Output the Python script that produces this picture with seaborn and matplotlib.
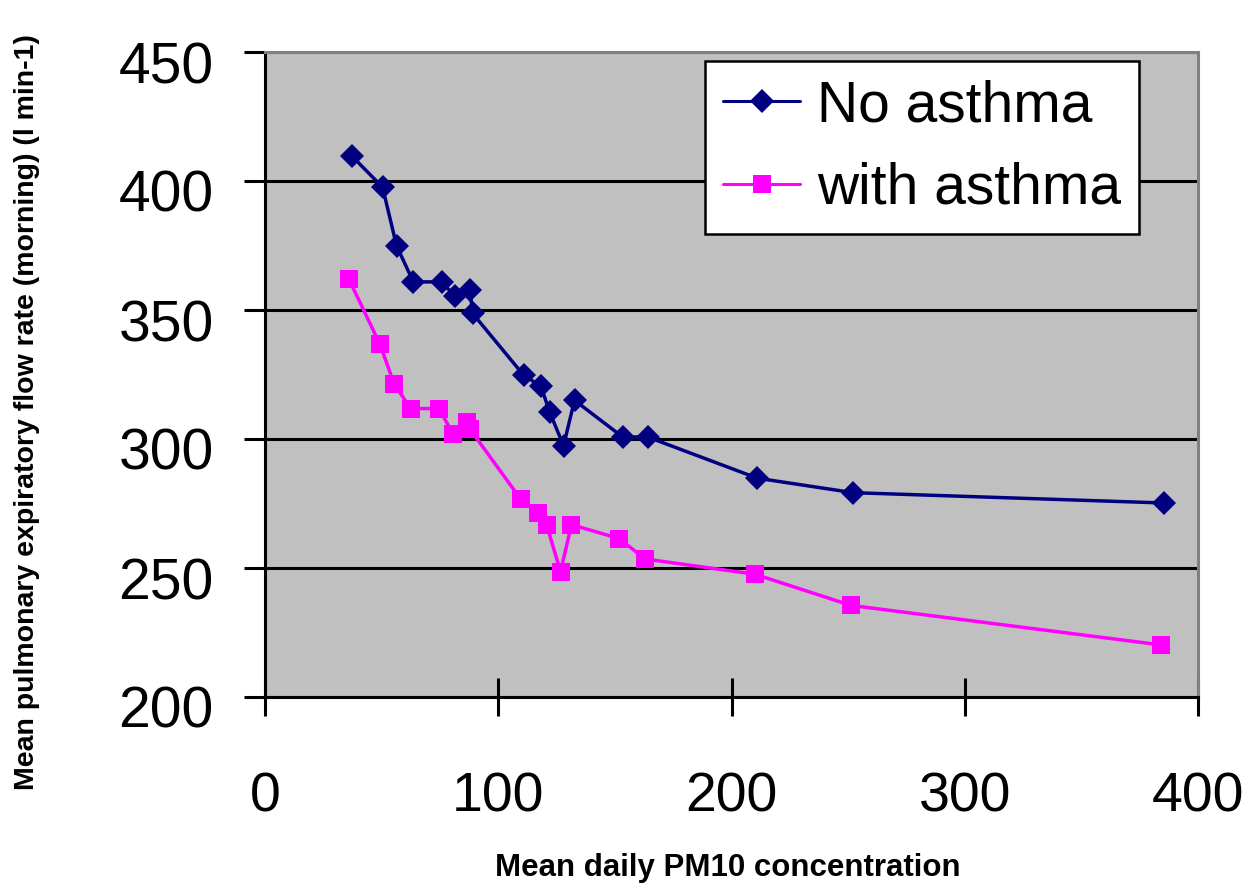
import numpy as np
import pandas as pd
import matplotlib
matplotlib.use("Agg")
import matplotlib.pyplot as plt
import matplotlib.transforms as mtransforms
from matplotlib.lines import Line2D
import seaborn as sns

# ---- data ----
pm10_no_asthma = [37.2, 50.4, 56.4, 63.6, 75.7, 81.4, 87.9, 89.0, 110.9, 118.3,
                  122.0, 128.0, 132.7, 153.3, 164.0, 211.1, 252.1, 385.3]
pef_no_asthma = [409.7, 397.6, 374.9, 360.9, 360.9, 355.4, 357.8, 348.7, 324.7, 320.5,
                 310.5, 297.4, 315.0, 300.8, 300.8, 284.8, 279.2, 275.2]

pm10_with_asthma = [36.0, 49.3, 55.3, 62.4, 74.6, 80.7, 86.7, 87.9, 109.7, 116.9,
                    120.7, 126.7, 131.4, 151.9, 162.9, 210.0, 251.2, 384.0]
pef_with_asthma = [361.9, 336.7, 321.5, 311.8, 311.8, 301.8, 306.6, 303.8, 276.6, 271.2,
                   266.8, 248.6, 266.8, 261.4, 253.5, 247.6, 235.5, 220.2]

series_names = ["No asthma", "with asthma"]
x_ticks = [0, 100, 200, 300, 400]
y_ticks = [200, 250, 300, 350, 400, 450]

x_label = "Mean daily PM10 concentration"
y_label = "Mean pulmonary expiratory flow rate (morning) (l min-1)"

df = pd.concat([
    pd.DataFrame({"pm10": pm10_no_asthma, "pef": pef_no_asthma, "group": series_names[0]}),
    pd.DataFrame({"pm10": pm10_with_asthma, "pef": pef_with_asthma, "group": series_names[1]}),
], ignore_index=True)

sns.set_theme(style="white")
plt.rcParams["font.family"] = ["Liberation Sans", "DejaVu Sans"]
plt.rcParams["text.color"] = "black"
plt.rcParams["xtick.color"] = "black"
plt.rcParams["ytick.color"] = "black"
plt.rcParams["xtick.labelcolor"] = "black"
plt.rcParams["ytick.labelcolor"] = "black"

fig = plt.figure(figsize=(12.5, 8.85), dpi=100)
ax = fig.add_axes([265 / 1250, 1 - 697 / 885, 933 / 1250, 645 / 885])
ax.set_facecolor("#C0C0C0")

palette = {"No asthma": "#000080", "with asthma": "#FF00FF"}
markers = {"No asthma": "D", "with asthma": "s"}
sns.lineplot(data=df, x="pm10", y="pef", hue="group", style="group",
             palette=palette, markers=markers, dashes=False, estimator=None,
             sort=False, linewidth=2.5, ax=ax, legend=False, zorder=3)

msizes = {"No asthma": 12.5, "with asthma": 13.0}
for line, name in zip(ax.lines, series_names):
    c = palette[name]
    line.set_markerfacecolor(c)
    line.set_markeredgecolor(c)
    line.set_markeredgewidth(0)
    line.set_markersize(msizes[name])

ax.set_xlim(0, 400)
ax.set_ylim(200, 450)
ax.set_xticks(x_ticks)
ax.set_yticks(y_ticks)
ax.set_xlabel("")
ax.set_ylabel("")

ax.set_axisbelow(True)
ax.yaxis.grid(True, color="black", linewidth=2.2)
ax.xaxis.grid(False)

for s in ["left", "bottom"]:
    ax.spines[s].set_color("black")
    ax.spines[s].set_linewidth(2.2)
for s in ["top", "right"]:
    ax.spines[s].set_color("#808080")
    ax.spines[s].set_linewidth(2.2)

ax.tick_params(axis="x", direction="inout", length=27, width=2.2, color="black",
               labelsize=40, pad=40, bottom=True, labelcolor="black")
ax.tick_params(axis="y", direction="out", length=15, width=2.2, color="black",
               labelsize=41, pad=22, left=True, labelcolor="black")

offset = mtransforms.ScaledTranslation(0, -10 / 100, fig.dpi_scale_trans)
for lab in ax.get_yticklabels():
    lab.set_transform(lab.get_transform() + offset)

# legend
handles = [Line2D([0], [0], color=palette[n], marker=markers[n], lw=2.2,
                  markersize=msizes[n] * 0.95, markeredgewidth=0) for n in series_names]
leg = ax.legend(handles, series_names, loc="upper left",
                bbox_to_anchor=(705 / 1250, 1 - 61 / 885), bbox_transform=fig.transFigure,
                fontsize=41, frameon=True, fancybox=False, borderaxespad=0,
                handlelength=1.35, handletextpad=0.3, borderpad=0.32,
                labelspacing=0.5)
leg.get_frame().set_edgecolor("black")
leg.get_frame().set_linewidth(1.8)
leg.get_frame().set_facecolor("white")
leg.get_frame().set_alpha(1)
for t in leg.get_texts():
    t.set_color("black")

fig.text(728 / 1250, 1 - 868 / 885, x_label, ha="center", va="center",
         fontsize=22.5, fontweight="bold", color="black")
fig.text(27 / 1250, 1 - 790 / 885, y_label, ha="center", va="bottom", rotation=90,
         fontsize=20.5, fontweight="bold", color="black",
         family=["Liberation Sans Narrow", "Liberation Sans", "DejaVu Sans"])

fig.savefig("out.png", dpi=100, facecolor="white")
